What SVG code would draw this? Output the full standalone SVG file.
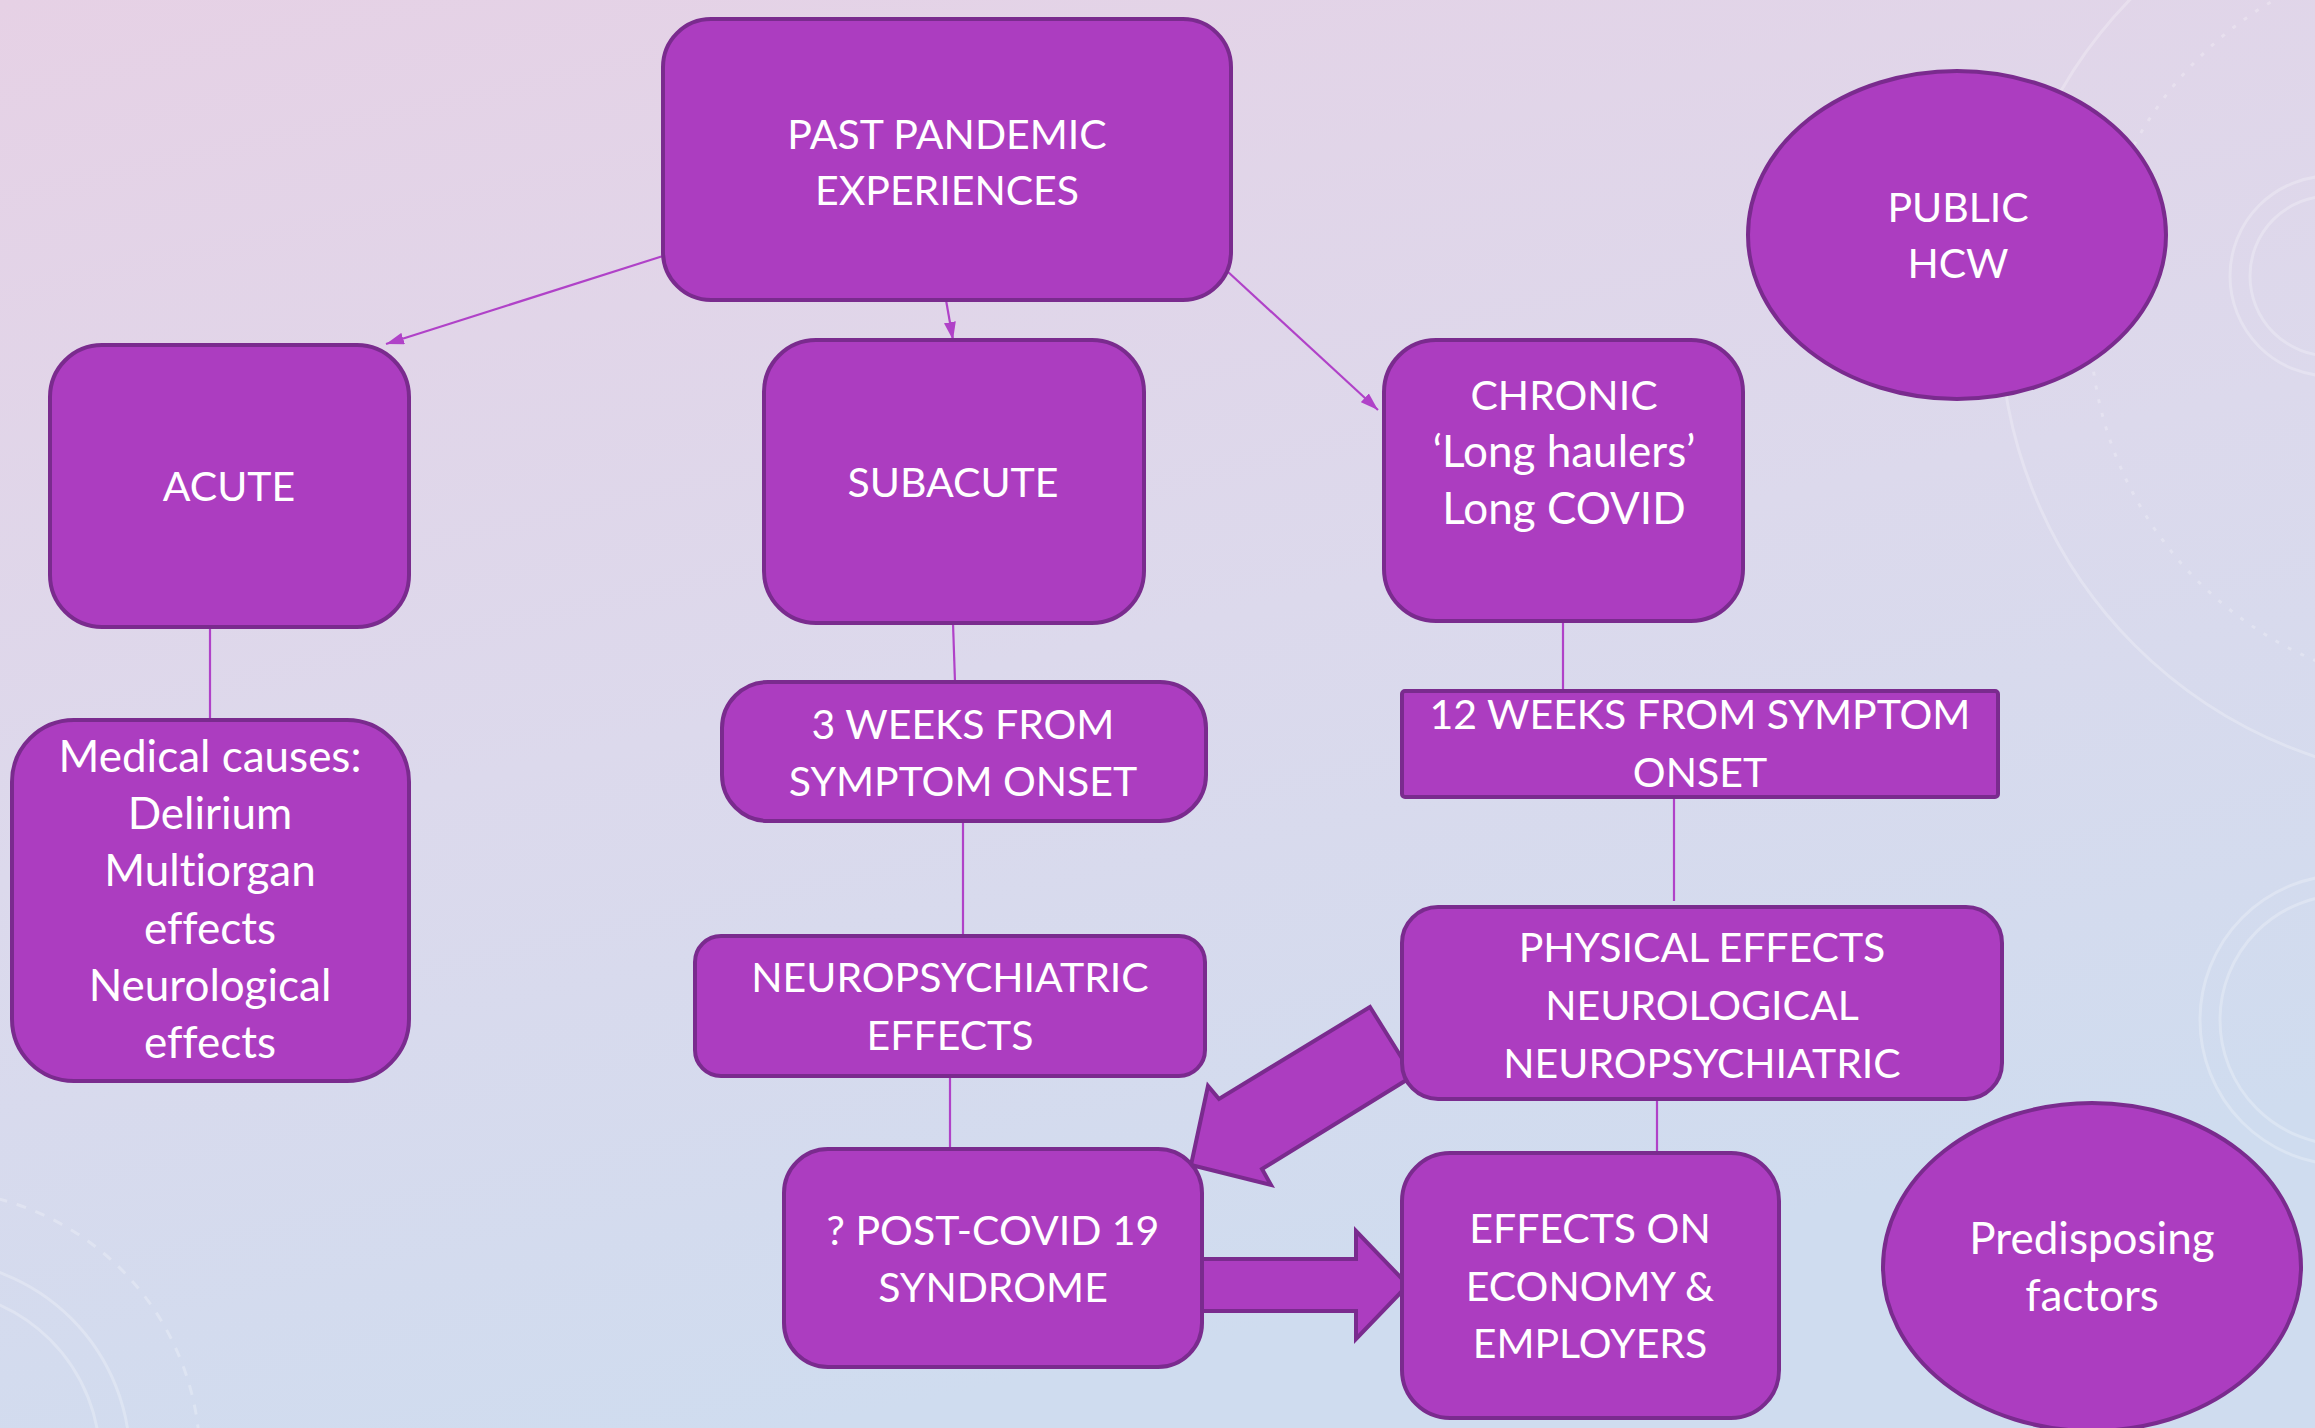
<svg xmlns="http://www.w3.org/2000/svg" width="2315" height="1428" viewBox="0 0 2315 1428">
  <defs>
    <linearGradient id="bg" x1="0" y1="0" x2="0.35" y2="1">
      <stop offset="0" stop-color="#e6d1e5"/>
      <stop offset="0.55" stop-color="#dcd9ec"/>
      <stop offset="1" stop-color="#cfdcef"/>
    </linearGradient>
    <marker id="head" viewBox="0 0 10 10" refX="10" refY="5" markerWidth="18" markerHeight="12" markerUnits="userSpaceOnUse" orient="auto" preserveAspectRatio="none">
      <path d="M0,0 L10,5 L0,10 Z" fill="#b042c8"/>
    </marker>
    <style>
      .box { fill: #ac3dc0; stroke: #7a2b8e; stroke-width: 4; }
      .link { fill: none; stroke: #b042c8; stroke-width: 2.2; }
      .deco { fill: none; stroke: #ffffff; stroke-opacity: 0.25; stroke-width: 3; }
      .lbl { fill: #ffffff; font-family: Lato, "Open Sans", "Liberation Sans", sans-serif; font-size: 41px; text-anchor: middle; font-variant-ligatures: none; }
      .mixed { font-size: 44px; }
    </style>
  </defs>

  <!-- background with faint dial ornaments -->
  <rect width="2315" height="1428" fill="url(#bg)"/>
  <g id="ornaments">
    <circle class="deco" cx="2460" cy="320" r="460"/>
    <circle class="deco" cx="2460" cy="320" r="370" stroke-dasharray="4 10"/>
    <circle class="deco" cx="2330" cy="276" r="80" stroke-width="5"/>
    <circle class="deco" cx="2330" cy="276" r="100" stroke-width="2"/>
    <circle class="deco" cx="2345" cy="1020" r="125" stroke-width="4"/>
    <circle class="deco" cx="2345" cy="1020" r="145" stroke-width="2"/>
    <circle class="deco" cx="-70" cy="1460" r="170" stroke-width="5"/>
    <circle class="deco" cx="-70" cy="1460" r="200" stroke-width="2"/>
    <circle class="deco" cx="-70" cy="1460" r="270" stroke-width="2" stroke-dasharray="10 10"/>
  </g>

  <!-- connectors -->
  <g id="connectors">
    <line class="link" x1="663" y1="256" x2="386" y2="344" marker-end="url(#head)"/>
    <line class="link" x1="946" y1="300" x2="953" y2="340" marker-end="url(#head)"/>
    <line class="link" x1="1227" y1="271" x2="1378" y2="410" marker-end="url(#head)"/>
    <line class="link" x1="210" y1="627" x2="210" y2="720"/>
    <line class="link" x1="953" y1="623" x2="955" y2="682"/>
    <line class="link" x1="963" y1="821" x2="963" y2="936"/>
    <line class="link" x1="950" y1="1076" x2="950" y2="1149"/>
    <line class="link" x1="1563" y1="621" x2="1563" y2="691"/>
    <line class="link" x1="1674" y1="797" x2="1674" y2="901"/>
    <line class="link" x1="1657" y1="1099" x2="1657" y2="1153"/>
    <!-- block arrows -->
    <polygon class="box" points="1370,1007 1413,1076 1262,1169 1271,1185 1191,1165 1208,1086 1219,1099"/>
    <polygon class="box" points="1202,1259 1356,1259 1356,1231 1408,1285 1356,1339 1356,1311 1202,1311"/>
  </g>

  <g id="past">
    <rect class="box" x="663" y="19" width="568" height="281" rx="48"/>
    <text class="lbl" x="947" y="149">PAST PANDEMIC</text>
    <text class="lbl" x="947" y="205">EXPERIENCES</text>
  </g>

  <g id="public">
    <ellipse class="box" cx="1957" cy="235" rx="209" ry="164"/>
    <text class="lbl" x="1958" y="222">PUBLIC</text>
    <text class="lbl" x="1958" y="278">HCW</text>
  </g>

  <g id="acute">
    <rect class="box" x="50" y="345" width="359" height="282" rx="52"/>
    <text class="lbl" x="229" y="501">ACUTE</text>
  </g>

  <g id="subacute">
    <rect class="box" x="764" y="340" width="380" height="283" rx="52"/>
    <text class="lbl" x="953" y="497">SUBACUTE</text>
  </g>

  <g id="chronic">
    <rect class="box" x="1384" y="340" width="359" height="281" rx="52"/>
    <text class="lbl" x="1564" y="410">CHRONIC</text>
    <text class="lbl mixed" x="1564" y="467">‘Long haulers’</text>
    <text class="lbl mixed" x="1564" y="524">Long COVID</text>
  </g>

  <g id="medical">
    <rect class="box" x="12" y="720" width="397" height="361" rx="62"/>
    <text class="lbl mixed" x="210" y="772">Medical causes:</text>
    <text class="lbl mixed" x="210" y="829">Delirium</text>
    <text class="lbl mixed" x="210" y="886">Multiorgan</text>
    <text class="lbl mixed" x="210" y="944">effects</text>
    <text class="lbl mixed" x="210" y="1001">Neurological</text>
    <text class="lbl mixed" x="210" y="1058">effects</text>
  </g>

  <g id="three-weeks">
    <rect class="box" x="722" y="682" width="484" height="139" rx="46"/>
    <text class="lbl" x="963" y="739">3 WEEKS FROM</text>
    <text class="lbl" x="963" y="796">SYMPTOM ONSET</text>
  </g>

  <g id="twelve-weeks">
    <rect class="box" x="1402" y="691" width="596" height="106" rx="3"/>
    <text class="lbl" x="1700" y="729">12 WEEKS FROM SYMPTOM</text>
    <text class="lbl" x="1700" y="787">ONSET</text>
  </g>

  <g id="neuropsych">
    <rect class="box" x="695" y="936" width="510" height="140" rx="26"/>
    <text class="lbl" x="950" y="992">NEUROPSYCHIATRIC</text>
    <text class="lbl" x="950" y="1050">EFFECTS</text>
  </g>

  <g id="physical">
    <rect class="box" x="1402" y="907" width="600" height="192" rx="36"/>
    <text class="lbl" x="1702" y="962">PHYSICAL EFFECTS</text>
    <text class="lbl" x="1702" y="1020">NEUROLOGICAL</text>
    <text class="lbl" x="1702" y="1078">NEUROPSYCHIATRIC</text>
  </g>

  <g id="post-covid">
    <rect class="box" x="784" y="1149" width="418" height="218" rx="44"/>
    <text class="lbl" x="993" y="1245">? POST-COVID 19</text>
    <text class="lbl" x="993" y="1302">SYNDROME</text>
  </g>

  <g id="economy">
    <rect class="box" x="1402" y="1153" width="377" height="265" rx="48"/>
    <text class="lbl" x="1590" y="1243">EFFECTS ON</text>
    <text class="lbl" x="1590" y="1301">ECONOMY &amp;</text>
    <text class="lbl" x="1590" y="1358">EMPLOYERS</text>
  </g>

  <g id="predisposing">
    <ellipse class="box" cx="2092" cy="1267" rx="209" ry="164"/>
    <text class="lbl mixed" x="2092" y="1254">Predisposing</text>
    <text class="lbl mixed" x="2092" y="1311">factors</text>
  </g>
</svg>
